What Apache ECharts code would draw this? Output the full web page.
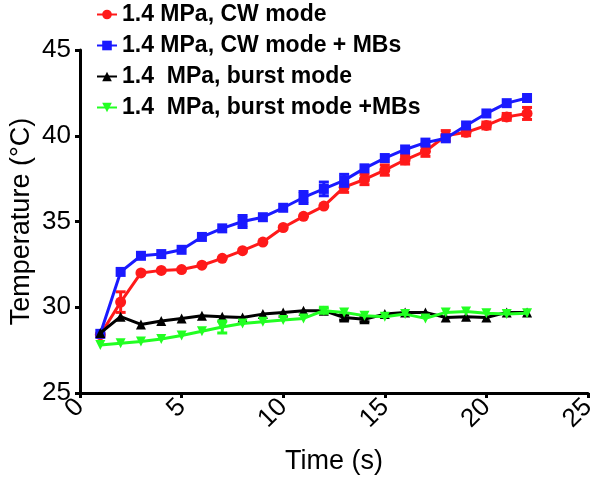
<!DOCTYPE html>
<html>
<head>
<meta charset="utf-8">
<script src="https://cdn.jsdelivr.net/npm/echarts@6/dist/echarts.min.js"></script>
<style>html,body{margin:0;padding:0;background:#fff;}#c{width:600px;height:477px;}</style>
</head>
<body>
<div id="c"></div>
<script>
const time = [1,2,3,4,5,6,7,8,9,10,11,12,13,14,15,16,17,18,19,20,21,22];
const xTicks = [0,5,10,15,20,25];
const yTicks = [25,30,35,40,45];
const names = ['1.4 MPa, CW mode','1.4 MPa, CW mode + MBs','1.4  MPa, burst mode','1.4  MPa, burst mode +MBs'];
const cw      = [28.4,30.3,32.0,32.15,32.2,32.45,32.85,33.3,33.8,34.65,35.3,35.9,37.0,37.45,38.0,38.6,39.1,40.0,40.2,40.6,41.1,41.3];
const cwErr   = [0,0.6,0,0,0,0,0,0,0,0,0,0,0.3,0.3,0.3,0.25,0.3,0.3,0.2,0.2,0.2,0.35];
const cwMB    = [28.45,32.06,33.0,33.1,33.35,34.1,34.6,35.0,35.25,35.8,36.4,36.9,37.4,38.1,38.7,39.2,39.6,39.85,40.6,41.3,41.9,42.2];
const cwMBErr = [0,0,0,0,0,0,0,0.35,0,0,0.35,0.4,0.35,0,0,0,0,0,0,0,0,0];
const burst    = [28.5,29.45,29.0,29.2,29.35,29.5,29.45,29.4,29.6,29.7,29.8,29.8,29.4,29.3,29.6,29.7,29.7,29.4,29.45,29.4,29.7,29.7];
const burstErr = [0,0,0,0,0,0,0,0,0,0,0,0,0.15,0.15,0,0,0,0,0,0,0,0];
const burstMB    = [27.8,27.9,28.0,28.15,28.35,28.6,28.85,29.05,29.15,29.25,29.35,29.8,29.7,29.5,29.45,29.6,29.35,29.7,29.75,29.65,29.6,29.65];
const burstMBErr = [0,0,0,0,0,0,0.35,0,0,0,0,0.15,0,0,0,0,0,0,0,0,0,0];
const colors = ['#ff1a1a','#1a1aff','#000000','#22ff22'];
const symbols = ['circle','rect','triangle','triangle'];
const rotations = [0,0,0,180];
const vals = [cw,cwMB,burst,burstMB];
const errs = [cwErr,cwMBErr,burstErr,burstMBErr];

const series = [];
vals.forEach((v,k)=>{
  series.push({
    type:'line', name:names[k], data:time.map((t,i)=>[t,v[i]]),
    symbol:symbols[k], symbolRotate:rotations[k], symbolSize: k===0?11:10,
    lineStyle:{color:colors[k],width:3}, itemStyle:{color:colors[k]},
    z:2+k*2, animation:false
  });
  series.push({
    type:'custom', name:names[k]+' err', z:3+k*2, animation:false,
    data:time.map((t,i)=>[t,v[i],errs[k][i]]),
    renderItem:function(params,api){
      const x=api.value(0), y=api.value(1), e=api.value(2);
      if(!e) return;
      const top=api.coord([x,y+e]), bot=api.coord([x,y-e]);
      const w=5, st={stroke:colors[k],lineWidth:3};
      return {type:'group',children:[
        {type:'line',shape:{x1:top[0],y1:top[1],x2:bot[0],y2:bot[1]},style:st},
        {type:'line',shape:{x1:top[0]-w,y1:top[1],x2:top[0]+w,y2:top[1]},style:st},
        {type:'line',shape:{x1:bot[0]-w,y1:bot[1],x2:bot[0]+w,y2:bot[1]},style:st}
      ]};
    }
  });
});

const chart = echarts.init(document.getElementById('c'));
chart.setOption({
  animation:false,
  backgroundColor:'#fff',
  grid:{left:80,right:12,top:50,bottom:84,containLabel:false,outerBoundsMode:'none'},
  legend:{
    data:names, orient:'vertical', left:91, top:-2, itemGap:8,
    itemWidth:20, itemHeight:12,
    textStyle:{fontSize:23,fontWeight:'bold',color:'#000',fontFamily:'Liberation Sans'}
  },
  xAxis:{
    type:'value', min:xTicks[0], max:xTicks[xTicks.length-1], interval:5,
    name:'Time (s)', nameLocation:'middle', nameGap:55,
    nameTextStyle:{fontSize:27,color:'#000',fontFamily:'Liberation Sans'},
    axisLine:{lineStyle:{color:'#000',width:3}},
    axisTick:{lineStyle:{color:'#000',width:3},length:5},
    axisLabel:{rotate:45,fontSize:26,color:'#000',fontFamily:'Liberation Sans',margin:10},
    splitLine:{show:false}
  },
  yAxis:{
    type:'value', min:yTicks[0], max:yTicks[yTicks.length-1], interval:5,
    name:'Temperature (°C)', nameLocation:'middle', nameGap:45, nameMoveOverlap:false,
    nameTextStyle:{fontSize:27,color:'#000',fontFamily:'Liberation Sans'},
    axisLine:{show:true,lineStyle:{color:'#000',width:3}},
    axisTick:{show:true,lineStyle:{color:'#000',width:3},length:5},
    axisLabel:{fontSize:26,color:'#000',fontFamily:'Liberation Sans',margin:9},
    splitLine:{show:false}
  },
  series:series
});
</script>
</body>
</html>
